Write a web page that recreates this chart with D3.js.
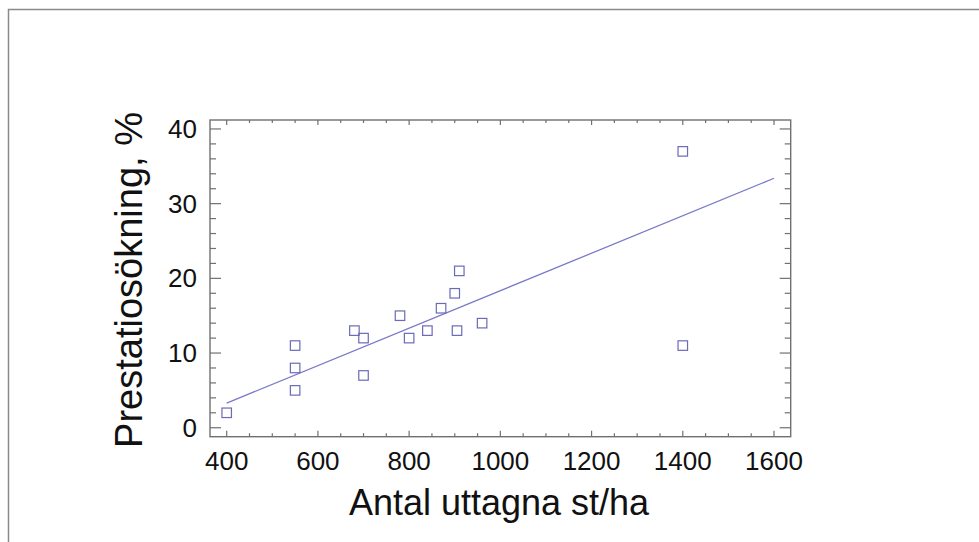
<!DOCTYPE html>
<html><head><meta charset="utf-8">
<script src="https://cdn.jsdelivr.net/npm/d3@7"></script>
<style>html,body{margin:0;padding:0;background:#fff;}svg{display:block;}</style>
</head><body>
<script>
const xValues = [400, 550, 550, 550, 680, 700, 700, 780, 800, 840, 870, 900, 905, 910, 960, 1400, 1400];
const yValues = [2, 11, 8, 5, 13, 12, 7, 15, 12, 13, 16, 18, 13, 21, 14, 37, 11];
const fitX = [400, 1600];
const fitY = [3.3, 33.4];
const xTicks = [400, 600, 800, 1000, 1200, 1400, 1600];
const yTicks = [0, 10, 20, 30, 40];
const xTitle = "Antal uttagna st/ha";
const yTitle = "Prestatiosökning, %";

const W = 979, H = 542;
const L = 210, R = 790.7, T = 120, B = 436.7;
const svg = d3.select("body").append("svg").attr("width", W).attr("height", H);

// outer frame
svg.append("path").attr("d", `M8.5,${H} V9.5 H${W}`).attr("fill","none").attr("stroke","#8a8a8a").attr("stroke-width",1.5);

const x = d3.scaleLinear().domain([363.4, 1636.6]).range([L, R]);
const y = d3.scaleLinear().domain([-1.2, 41.2]).range([B, T]);

const axisColor = "#707070";
const g = svg.append("g");

const xMinor = d3.range(400, 1601, 50).filter(v => v % 200 !== 0);
const yMinor = d3.range(0, 41, 2).filter(v => v % 10 !== 0);

function ticks(vals, len, side) {
  vals.forEach(v => {
    let d;
    if (side === "bottom") d = `M${x(v)},${B} v${-len}`;
    if (side === "top") d = `M${x(v)},${T} v${len}`;
    if (side === "left") d = `M${L},${y(v)} h${len}`;
    if (side === "right") d = `M${R},${y(v)} h${-len}`;
    g.append("path").attr("d", d).attr("stroke", axisColor).attr("stroke-width", 1.2);
  });
}
ticks(xTicks, 6, "bottom"); ticks(xMinor, 3.5, "bottom");
ticks(xTicks, 5, "top"); ticks(xMinor, 3, "top");
ticks(yTicks, 11, "left"); ticks(yMinor, 6, "left");
ticks(yTicks, 11, "right"); ticks(yMinor, 6, "right");

g.append("rect").attr("x", L).attr("y", T).attr("width", R - L).attr("height", B - T)
  .attr("fill", "none").attr("stroke", axisColor).attr("stroke-width", 1.4);

const font = "Liberation Sans, Arial, sans-serif";
g.selectAll(".xl").data(xTicks).enter().append("text")
  .attr("x", d => x(d)).attr("y", 470).attr("text-anchor", "middle")
  .attr("font-family", font).attr("font-size", 26).attr("fill", "#111").text(d => d);
g.selectAll(".yl").data(yTicks).enter().append("text")
  .attr("x", 197).attr("y", d => y(d)).attr("dy", "0.35em").attr("text-anchor", "end")
  .attr("font-family", font).attr("font-size", 26).attr("fill", "#111").text(d => d);

svg.append("text").attr("x", 499).attr("y", 515).attr("text-anchor", "middle")
  .attr("font-family", font).attr("font-size", 36).attr("fill", "#111").text(xTitle);
svg.append("text").attr("transform", "translate(142,280) rotate(-90)").attr("text-anchor", "middle")
  .attr("font-family", font).attr("font-size", 38).attr("fill", "#111").text(yTitle);

const fit = fitX.map((v, i) => [v, fitY[i]]);
svg.append("path").attr("d", d3.line().x(d => x(d[0])).y(d => y(d[1]))(fit))
  .attr("fill", "none").attr("stroke", "#7a7ac8").attr("stroke-width", 1.3);

const pts = xValues.map((v, i) => [v, yValues[i]]);
const s = 9.5;
svg.selectAll(".pt").data(pts).enter().append("rect")
  .attr("x", d => x(d[0]) - s / 2).attr("y", d => y(d[1]) - s / 2)
  .attr("width", s).attr("height", s)
  .attr("fill", "none").attr("stroke", "#6a6ab8").attr("stroke-width", 1.2);
</script>
</body></html>
